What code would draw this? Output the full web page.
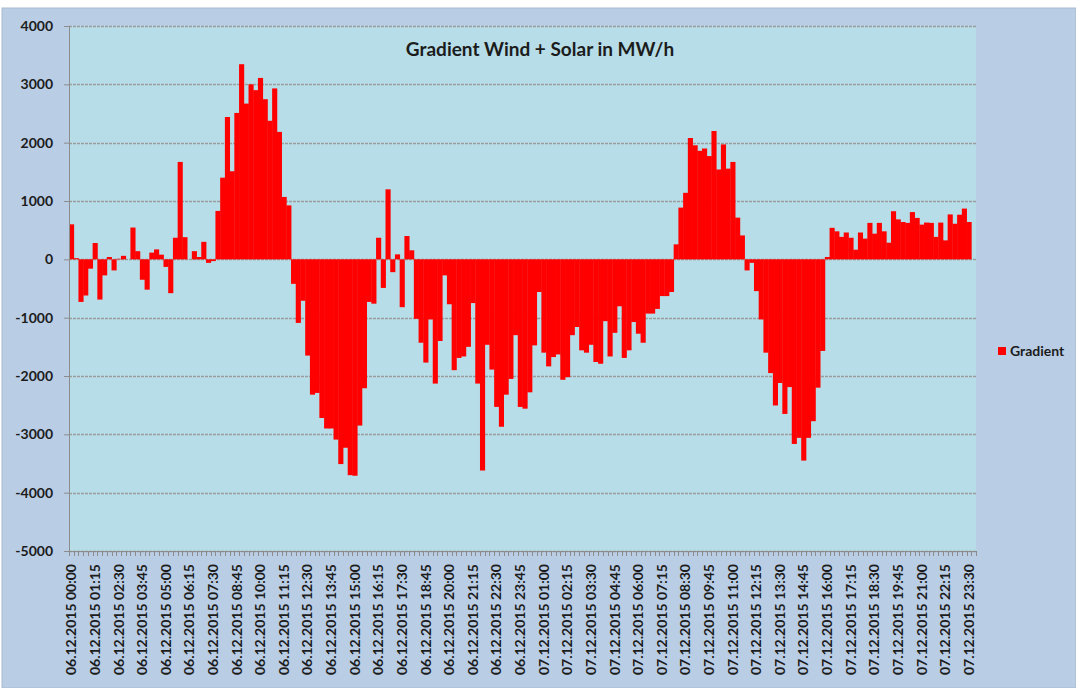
<!DOCTYPE html>
<html>
<head>
<meta charset="utf-8">
<script src="https://cdn.jsdelivr.net/npm/d3@7"></script>
<style>
  body { margin: 0; background: #fff; }
  text { font-family: Lato, "Open Sans", sans-serif; font-weight: bold; fill: #1c1c1c; }
</style>
</head>
<body>
<div id="chart"></div>
<script>
// 15 minute values, 06.12.2015 00:00 .. 07.12.2015 23:45
const gradient = [
  600, 20, -730, -620, -160, 280, -690, -275, 40, -190,
  10, 60, 0, 545, 140, -350, -520, 115, 170, 80,
  -130, -580, 370, 1670, 380, 0, 140, 40, 300, -60,
  -30, 830, 1400, 2440, 1510, 2510, 3345, 2670, 3000, 2900,
  3110, 2745, 2375, 2930, 2185, 1070, 925, -420, -1090, -710,
  -1650, -2320, -2290, -2720, -2900, -2900, -3090, -3510, -3230, -3700,
  -3710, -2850, -2210, -730, -760, 370, -490, 1200, -220, 85,
  -820, 400, 155, -1020, -1430, -1770, -1030, -2130, -1400, -275,
  -770, -1900, -1690, -1665, -1500, -750, -2130, -3620, -1465, -1890,
  -2530, -2870, -2320, -2050, -1300, -2530, -2560, -2280, -1475, -560,
  -1600, -1835, -1675, -1630, -2065, -2020, -1300, -1160, -1560, -1600,
  -1465, -1760, -1790, -1060, -1665, -1260, -805, -1690, -1560, -1075,
  -1275, -1430, -930, -930, -850, -630, -630, -560, 257, 887,
  1140, 2080, 1955, 1860, 1900, 1770, 2200, 1540, 1970, 1555,
  1670, 715, 410, -190, -60, -545, -1030, -1600, -1950, -2505,
  -2120, -2650, -2190, -3165, -3060, -3450, -3060, -2775, -2200, -1570,
  40, 540, 480, 385, 460, 370, 165, 460, 355, 625,
  440, 625, 480, 285, 825, 685, 640, 625, 810, 710,
  595, 630, 625, 385, 630, 325, 770, 610, 765, 870,
  640, 0
];

const startTime = new Date(2015, 11, 6, 0, 0);
const stepMinutes = 15;
const labelEvery = 5;
const yTicks = [-5000, -4000, -3000, -2000, -1000, 0, 1000, 2000, 3000, 4000];
const chartTitle = "Gradient Wind + Solar in MW/h";
const seriesName = "Gradient";

const fmt = d3.timeFormat("%d.%m.%Y %H:%M");
const categories = gradient.map((v, i) => fmt(d3.timeMinute.offset(startTime, i * stepMinutes)));

let svgWidth = 1076,
  svgHeight = 688,
  plot = { left: 69, right: 976, top: 26, bottom: 551 };

let svg = d3
  .select("#chart")
  .append("svg")
  .attr("width", svgWidth)
  .attr("height", svgHeight);

// chart background
svg
  .append("rect")
  .attr("x", 2)
  .attr("y", 8)
  .attr("width", svgWidth - 2)
  .attr("height", svgHeight - 8)
  .attr("fill", "#b9cde5")
  .attr("stroke", "#a9b9cc");

let x = d3
  .scaleBand()
  .domain(categories)
  .range([plot.left, plot.right])
  .padding(0);

let y = d3
  .scaleLinear()
  .domain([-5000, 4000])
  .range([plot.bottom, plot.top]);

svg
  .append("rect")
  .attr("x", plot.left)
  .attr("y", plot.top)
  .attr("width", plot.right - plot.left)
  .attr("height", plot.bottom - plot.top)
  .attr("fill", "#b7dee8");

// gridlines
svg
  .append("g")
  .attr("class", "grid")
  .selectAll("line")
  .data(yTicks)
  .enter()
  .append("line")
  .attr("x1", plot.left)
  .attr("x2", plot.right)
  .attr("y1", d => Math.round(y(d)) + 0.5)
  .attr("y2", d => Math.round(y(d)) + 0.5)
  .attr("stroke", "#9c9c9c")
  .attr("stroke-width", 1.3)
  .attr("stroke-dasharray", "3,1");

// bars
svg
  .append("g")
  .attr("class", "bars")
  .selectAll("rect")
  .data(gradient)
  .enter()
  .append("rect")
  .attr("x", (d, i) => x(categories[i]))
  .attr("width", x.bandwidth() + 0.4)
  .attr("y", d => y(Math.max(0, d)))
  .attr("height", d => Math.abs(y(d) - y(0)))
  .attr("fill", "#ff0000");

// y axis (plain hyphen for negatives, like the original)
let yAxis = d3
  .axisLeft(y)
  .tickValues(yTicks)
  .tickSize(5)
  .tickPadding(11)
  .tickFormat(d => String(d));

let gy = svg
  .append("g")
  .attr("class", "y-axis")
  .attr("transform", "translate(" + plot.left + ",0)")
  .call(yAxis);

gy.select(".domain").attr("stroke", "#8c8c8c");
gy.selectAll(".tick line").attr("stroke", "#8c8c8c");
gy.selectAll("text").style("font-size", "14px").attr("fill", "#1c1c1c");

// x axis: tick marks between every category
let gx = svg.append("g").attr("class", "x-axis");

gx.append("line")
  .attr("x1", plot.left)
  .attr("x2", plot.right)
  .attr("y1", plot.bottom + 0.5)
  .attr("y2", plot.bottom + 0.5)
  .attr("stroke", "#8c8c8c");

gx.selectAll(".tick")
  .data(categories.concat([null]))
  .enter()
  .append("line")
  .attr("class", "tick")
  .attr("x1", (d, i) => Math.round(i < categories.length ? x(d) : plot.right) + 0.5)
  .attr("x2", (d, i) => Math.round(i < categories.length ? x(d) : plot.right) + 0.5)
  .attr("y1", plot.bottom)
  .attr("y2", plot.bottom + 5)
  .attr("stroke", "#8c8c8c");

gx.selectAll(".label")
  .data(categories.filter((d, i) => i % labelEvery === 0))
  .enter()
  .append("text")
  .attr("class", "label")
  .attr("transform", d => "translate(" + (x(d) + x.bandwidth() / 2) + "," + (plot.bottom + 13) + ") rotate(-90)")
  .attr("text-anchor", "end")
  .attr("dy", "0.35em")
  .style("font-size", "14px")
  .text(d => d);

// title
svg
  .append("text")
  .attr("x", 540)
  .attr("y", 56)
  .attr("text-anchor", "middle")
  .style("font-size", "19px")
  .text(chartTitle);

// legend
let legend = svg.append("g").attr("class", "legend");

legend
  .append("rect")
  .attr("x", 998)
  .attr("y", 347)
  .attr("width", 8)
  .attr("height", 8)
  .attr("fill", "#ff0000");

legend
  .append("text")
  .attr("x", 1010)
  .attr("y", 356)
  .style("font-size", "14px")
  .text(seriesName);
</script>
</body>
</html>
